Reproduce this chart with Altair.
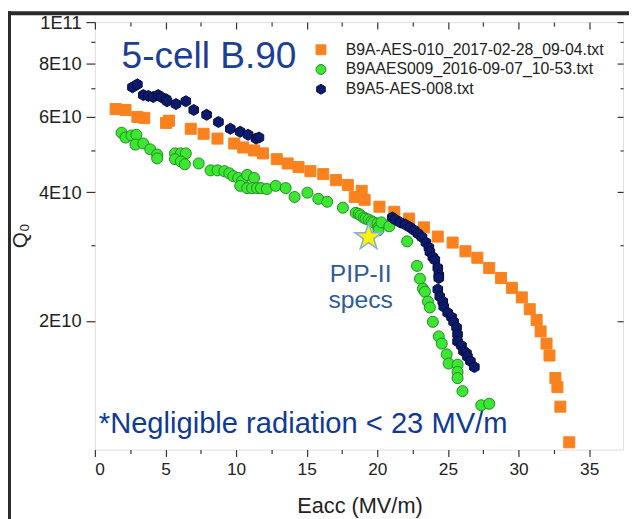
import altair as alt
import pandas as pd

SERIES = ["B9A-AES-010_2017-02-28_09-04.txt",
          "B9AAES009_2016-09-07_10-53.txt",
          "B9A5-AES-008.txt"]

# Orange squares (Eacc MV/m, Q0 in units of 1E10)
E_or = [1.47, 2.17, 3.01, 3.50, 5.04, 5.25, 6.79, 7.70, 8.68, 9.87, 10.50, 11.27, 11.90, 12.88, 13.65,
        14.42, 15.26, 16.17, 17.07, 17.91, 18.40, 18.89, 19.10, 20.15, 21.20, 22.25, 23.30, 24.28, 25.33,
        26.24, 27.08, 27.92, 28.76, 29.53, 30.23, 30.79, 31.28, 31.56, 31.98, 32.19, 32.61, 32.75, 32.96, 33.59]
Q_or = [6.26, 6.23, 6.00, 5.97, 5.81, 5.88, 5.63, 5.48, 5.34, 5.20, 5.09, 5.01, 4.93, 4.78, 4.67,
        4.58, 4.48, 4.41, 4.27, 4.16, 3.90, 4.03, 3.84, 3.70, 3.60, 3.47, 3.31, 3.15, 3.05,
        2.91, 2.81, 2.66, 2.52, 2.39, 2.27, 2.13, 2.01, 1.89, 1.77, 1.66, 1.47, 1.40, 1.26, 1.04]

# Green circles
E_gr = [1.89, 2.17, 2.59, 2.94, 2.87, 3.43, 3.92, 4.41, 4.41, 5.67, 6.09, 6.44, 5.67, 6.09, 6.37,
        7.35, 8.19, 8.68, 9.17, 9.52, 9.80, 10.15, 10.43, 10.78, 11.27, 10.29, 10.78, 11.13, 11.48, 11.76,
        12.18, 12.81, 13.51, 14.14, 15.05, 15.82, 16.45, 17.56, 18.47, 18.68, 18.82, 19.03, 19.17, 19.38, 19.59,
        19.73, 20.01, 20.08, 20.08, 20.29, 20.85, 22.11, 22.81, 23.02, 23.23, 23.37, 23.58, 23.72, 23.93, 24.35,
        24.56, 24.91, 25.05, 25.68, 25.68, 25.68, 26.03, 27.36, 27.92]
Q_gr = [5.51, 5.37, 5.43, 5.45, 5.17, 5.20, 5.04, 4.90, 4.80, 4.93, 4.93, 4.93, 4.78, 4.72, 4.65,
        4.67, 4.50, 4.50, 4.48, 4.43, 4.36, 4.32, 4.25, 4.39, 4.32, 4.14, 4.09, 4.09, 4.09, 4.09,
        4.07, 4.14, 4.09, 3.90, 3.99, 3.86, 3.80, 3.68, 3.58, 3.56, 3.53, 3.49, 3.47, 3.45, 3.42,
        3.40, 3.38, 3.31, 3.26, 3.40, 3.33, 3.07, 2.69, 2.51, 2.38, 2.34, 2.22, 2.15, 1.99, 1.84,
        1.77, 1.67, 1.59, 1.58, 1.52, 1.47, 1.37, 1.27, 1.28]

# Navy hexagons
E_nv = [2.66, 3.01, 3.43, 3.78, 4.13, 4.48, 4.69, 5.04, 5.11, 5.74, 6.44, 7.00, 7.91, 8.75, 9.59,
        10.29, 10.85, 11.41, 11.62,
        21.06, 21.27, 21.62, 21.97, 22.32, 22.60, 22.88, 23.16, 23.44, 23.65, 23.72, 23.93, 24.07, 24.28,
        24.35, 24.35, 24.28, 24.42, 24.63, 24.70, 24.98, 25.26, 25.40, 25.61, 25.68, 25.68, 25.96, 26.10,
        26.31, 26.38, 26.59, 26.87]
Q_nv = [7.04, 7.15, 6.75, 6.72, 6.68, 6.75, 6.68, 6.60, 6.53, 6.43, 6.53, 6.23, 6.07, 5.84, 5.63,
        5.54, 5.45, 5.34, 5.37,
        3.49, 3.45, 3.40, 3.36, 3.31, 3.26, 3.20, 3.14, 3.05, 2.97, 2.90, 2.82, 2.78, 2.66,
        2.56, 2.52, 2.37, 2.28, 2.22, 2.16, 2.09, 2.04, 1.99, 1.93, 1.86, 1.79, 1.75, 1.70,
        1.68, 1.65, 1.61, 1.56]

# PIP-II spec point
STAR_E = [19.38]
STAR_Q = [3.14]

X_MAJOR = [0, 5, 10, 15, 20, 25, 30, 35]
X_MINOR = [2.5, 7.5, 12.5, 17.5, 22.5, 27.5, 32.5]
Y_MAJOR = [2e10, 4e10, 6e10, 8e10, 1e11]
Y_MINOR = [3e10, 5e10, 7e10, 9e10]

FONT = "Liberation Sans"
HEX = "M0,-1L0.866,-0.5L0.866,0.5L0,1L-0.866,0.5L-0.866,-0.5Z"
STAR = ("M0,-1L0.2245,-0.309L0.951,-0.309L0.3633,0.118L0.5878,0.809L0,0.382"
        "L-0.5878,0.809L-0.3633,0.118L-0.951,-0.309L-0.2245,-0.309Z")

rows = []
for name, es, qs in [(SERIES[0], E_or, Q_or), (SERIES[1], E_gr, Q_gr), (SERIES[2], E_nv, Q_nv)]:
    for e, q in zip(es, qs):
        rows.append({"series": name, "E": e, "Q": q * 1e10})
df = pd.DataFrame(rows)

star_df = pd.DataFrame({"E": STAR_E, "Q": [q * 1e10 for q in STAR_Q]})

X_SCALE = alt.Scale(domain=[0, 37.4], nice=False, zero=False)
Y_SCALE = alt.Scale(type="log", domain=[1e10, 1e11], nice=False)

tick_common = dict(grid=False, domain=False, tickColor="#333", tickWidth=1.2)


def leg():
    return alt.Legend(title=None, orient="none", legendX=221, legendY=20, labelFont=FONT,
                      labelFontSize=16, labelColor="#222", labelOffset=17, labelLimit=500,
                      symbolSize=100, symbolStrokeWidth=1, rowPadding=4, padding=0)


main = alt.Chart(df).mark_point(filled=True, opacity=1, size=125, strokeWidth=1).encode(
    x=alt.X("E:Q", scale=X_SCALE, axis=alt.Axis(
        orient="bottom", values=X_MAJOR, tickSize=7, labelFont=FONT, labelFontSize=17.5,
        labelColor="#222", labelPadding=4, title="Eacc (MV/m)", titleFont=FONT, titleFontSize=22,
        titleFontWeight="normal", titleColor="#222", titleX=268, titleY=64,
        titleBaseline="alphabetic", **tick_common)),
    y=alt.Y("Q:Q", scale=Y_SCALE, axis=alt.Axis(
        orient="left", values=Y_MAJOR, tickSize=9, labelFont=FONT, labelFontSize=18.5,
        labelColor="#222", labelPadding=5,
        labelExpr="round(datum.value/1e10) >= 10 ? '1E11' : round(datum.value/1e10) + 'E10'",
        title="Q₀", titleFont=FONT, titleFontSize=21, titleFontWeight="normal", titleColor="#222",
        titleX=-75, titleY=216, titleAngle=270, titleAlign="center", titleBaseline="middle",
        **tick_common)),
    fill=alt.Fill("series:N", scale=alt.Scale(domain=SERIES, range=["#fa821e", "#3ce632", "#0b1a6b"]),
                  legend=leg()),
    stroke=alt.Stroke("series:N", scale=alt.Scale(domain=SERIES, range=["#fa821e", "#1e8c1e", "#050c3d"]),
                      legend=leg()),
    shape=alt.Shape("series:N", scale=alt.Scale(domain=SERIES, range=["square", "circle", HEX]),
                    legend=leg()),
)


def ghost(xaxis, yaxis):
    return alt.Chart(df).mark_point(opacity=0).encode(
        x=alt.X("E:Q", scale=X_SCALE, axis=xaxis),
        y=alt.Y("Q:Q", scale=Y_SCALE, axis=yaxis),
    )


minor_bl = ghost(
    alt.Axis(orient="bottom", values=X_MINOR, tickSize=4, labels=False, title=None, **tick_common),
    alt.Axis(orient="left", values=Y_MINOR, tickSize=4, labels=False, title=None, **tick_common))
major_tr = ghost(
    alt.Axis(orient="top", values=X_MAJOR, tickSize=7, offset=-7, labels=False, title=None, **tick_common),
    alt.Axis(orient="right", values=Y_MAJOR, tickSize=6, offset=-6, labels=False, title=None, **tick_common))
minor_tr = ghost(
    alt.Axis(orient="top", values=X_MINOR, tickSize=4, offset=-4, labels=False, title=None, **tick_common),
    alt.Axis(orient="right", values=Y_MINOR, tickSize=3, offset=-3, labels=False, title=None, **tick_common))

star = alt.Chart(star_df).mark_point(
    shape=STAR, size=820, filled=True, fill="#fff200", stroke="#7fb0e0", strokeWidth=1.5, opacity=1
).encode(
    x=alt.X("E:Q", scale=X_SCALE, axis=None),
    y=alt.Y("Q:Q", scale=Y_SCALE, axis=None),
)

ann_left = pd.DataFrame({
    "text": ["5-cell B.90", "*Negligible radiation < 23 MV/m"],
    "E": [1.89, 0.28],
    "Q": [7.79e10, 1.095e10],
    "fs": [37.5, 29.5],
    "col": ["#1c3f94", "#0f3a96"],
})
ann_center = pd.DataFrame({
    "text": ["PIP-II", "specs"],
    "E": [18.82, 18.82],
    "Q": [2.47e10, 2.14e10],
    "fs": [25, 25],
    "col": ["#2e5a9c", "#2e5a9c"],
})


def texts(d, align):
    return alt.Chart(d).mark_text(align=align, baseline="alphabetic", font=FONT).encode(
        x=alt.X("E:Q", scale=X_SCALE, axis=None),
        y=alt.Y("Q:Q", scale=Y_SCALE, axis=None),
        text="text:N",
        size=alt.Size("fs:Q", scale=None, legend=None),
        color=alt.Color("col:N", scale=None, legend=None),
    )


frame_v = alt.Chart(star_df).mark_rect(color="#2a2a2a").encode(
    x=alt.value(-88), x2=alt.value(-85), y=alt.value(-11), y2=alt.value(510))
frame_h = alt.Chart(star_df).mark_rect(color="#2a2a2a").encode(
    x=alt.value(-88), x2=alt.value(541), y=alt.value(-11), y2=alt.value(-7))

chart = alt.layer(
    minor_bl, major_tr, minor_tr, main, star, texts(ann_left, "left"),
    texts(ann_center, "center"), frame_v, frame_h
).resolve_axis(x="independent", y="independent").properties(
    width=535, height=433,
    autosize=alt.AutoSizeParams(type="none"),
    padding={"left": 88, "top": 11, "right": 6, "bottom": 67},
).configure_view(stroke="#333", strokeWidth=1.5).configure(background="white")

chart.save("out.html", embed_options={"renderer": "svg", "actions": False})
